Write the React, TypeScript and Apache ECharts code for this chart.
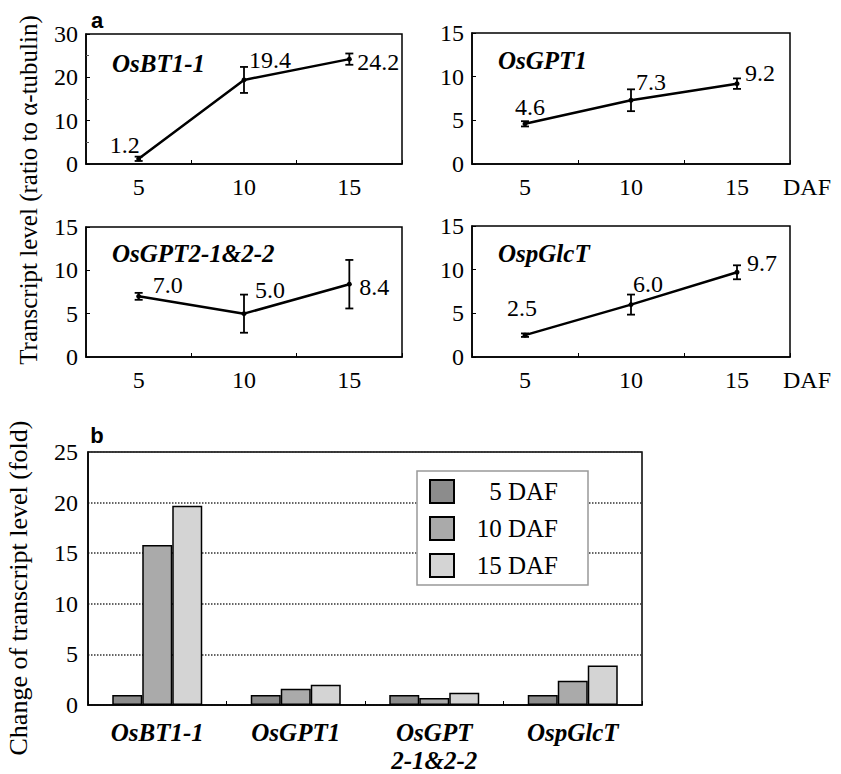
import React, { useEffect, useRef } from "react";
import * as echarts from "echarts";

const daf = ["5", "10", "15"];
const osbt11 = [1.2, 19.4, 24.2];
const osbt11Err = [0.5, 3.0, 1.3];
const osgpt1 = [4.6, 7.3, 9.2];
const osgpt1Err = [0.3, 1.25, 0.6];
const osgpt2 = [7.0, 5.0, 8.4];
const osgpt2Err = [0.4, 2.2, 2.8];
const ospglct = [2.5, 6.0, 9.7];
const ospglctErr = [0.2, 1.15, 0.8];

const genes = ["OsBT1-1", "OsGPT1", "OsGPT\n2-1&2-2", "OspGlcT"];
const fold5 = [1.0, 1.0, 1.0, 1.0];
const fold10 = [15.8, 1.6, 0.7, 2.4];
const fold15 = [19.7, 2.0, 1.2, 3.9];

const SERIF = "Liberation Serif";
const SANS = "Liberation Sans";

// label offsets (layout only)
const labelOffsets = [
  [[-14, -14], [26, -20], [29, 3]],
  [[5, -17], [20, -18], [23, -11]],
  [[29, -11], [26, -24], [25, 3]],
  [[-3, -27], [17, -21], [25, -9]],
];

const panels = [
  { name: "OsBT1-1", vals: osbt11, errs: osbt11Err, max: 30, interval: 10, grid: { left: 86, top: 34, width: 316, height: 130 }, daf: false, tx: 112, ty: 63 },
  { name: "OsGPT1", vals: osgpt1, errs: osgpt1Err, max: 15, interval: 5, grid: { left: 472, top: 33, width: 318, height: 131 }, daf: true, tx: 498, ty: 60 },
  { name: "OsGPT2-1&2-2", vals: osgpt2, errs: osgpt2Err, max: 15, interval: 5, grid: { left: 86, top: 227, width: 316, height: 130 }, daf: false, tx: 112, ty: 253 },
  { name: "OspGlcT", vals: ospglct, errs: ospglctErr, max: 15, interval: 5, grid: { left: 472, top: 226, width: 318, height: 131 }, daf: true, tx: 498, ty: 253 },
];

export default function App() {
  const ref = useRef<HTMLDivElement>(null);
  useEffect(() => {
    document.body.style.margin = "0";
    const chart = echarts.init(ref.current!, null, { renderer: "svg" });

    const grids: any[] = [];
    const xAxes: any[] = [];
    const yAxes: any[] = [];
    const series: any[] = [];
    const graphics: any[] = [];

    panels.forEach((p, i) => {
      grids.push({ ...p.grid, show: true, borderColor: "#000", borderWidth: 1.5, containLabel: false });
      xAxes.push({
        type: "category",
        gridIndex: i,
        data: daf,
        boundaryGap: true,
        axisLine: { show: true, lineStyle: { color: "#000", width: 1.5 } },
        axisTick: { show: true, inside: true, length: 4, lineStyle: { color: "#000" } },
        axisLabel: { color: "#000", fontSize: 24, fontFamily: SERIF, margin: 11 },
        name: p.daf ? "DAF" : "",
        nameLocation: "end",
        nameGap: -7,
        nameTextStyle: { color: "#000", fontSize: 24, fontFamily: SERIF, align: "left", verticalAlign: "top", padding: [11, 0, 0, 0] },
      });
      yAxes.push({
        type: "value",
        gridIndex: i,
        min: 0,
        max: p.max,
        interval: p.interval,
        axisLine: { show: true, lineStyle: { color: "#000", width: 1.5 } },
        axisTick: { show: true, inside: true, length: 4, lineStyle: { color: "#000" } },
        minorTick: { show: p.max === 30, splitNumber: 2, length: 3, lineStyle: { color: "#555" } },
        splitLine: { show: false },
        axisLabel: { color: "#000", fontSize: 24, fontFamily: SERIF, margin: 8 },
      });
      series.push({
        type: "line",
        xAxisIndex: i,
        yAxisIndex: i,
        data: p.vals.map((v, j) => ({
          value: v,
          label: { offset: labelOffsets[i][j] },
        })),
        symbol: "circle",
        symbolSize: 5,
        itemStyle: { color: "#000" },
        lineStyle: { color: "#000", width: 2.5 },
        label: {
          show: true,
          position: "inside",
          color: "#000",
          fontSize: 24,
          fontFamily: SERIF,
          formatter: (q: any) => Number(q.value).toFixed(1),
        },
        z: 3,
      });
      series.push({
        type: "custom",
        xAxisIndex: i,
        yAxisIndex: i,
        data: p.vals.map((v, j) => [j, v - p.errs[j], v + p.errs[j]]),
        renderItem: (params: any, api: any) => {
          const x = api.value(0);
          const lo = api.coord([x, api.value(1)]);
          const hi = api.coord([x, api.value(2)]);
          const cw = 4;
          const st = { stroke: "#000", lineWidth: 1.8 };
          return {
            type: "group",
            children: [
              { type: "line", shape: { x1: lo[0], y1: lo[1], x2: hi[0], y2: hi[1] }, style: st },
              { type: "line", shape: { x1: lo[0] - cw, y1: lo[1], x2: lo[0] + cw, y2: lo[1] }, style: st },
              { type: "line", shape: { x1: hi[0] - cw, y1: hi[1], x2: hi[0] + cw, y2: hi[1] }, style: st },
            ],
          };
        },
        z: 4,
      });
      graphics.push({
        type: "text",
        x: p.tx,
        y: p.ty,
        style: {
          text: p.name,
          fontSize: 25,
          fontFamily: SERIF,
          fontWeight: "bold",
          fontStyle: "italic",
          fill: "#000",
          align: "left",
          verticalAlign: "middle",
        },
      });
    });

    // Bar chart (part b)
    const bi = 4;
    grids.push({ left: 88, top: 452, width: 554, height: 256, show: true, borderColor: "#000", borderWidth: 1.5 });
    xAxes.push({
      type: "category",
      gridIndex: bi,
      data: genes,
      boundaryGap: true,
      axisLine: { show: true, lineStyle: { color: "#000", width: 1.5 } },
      axisTick: { show: true, inside: true, length: 4, lineStyle: { color: "#000" } },
      axisLabel: {
        color: "#000",
        fontSize: 25,
        fontFamily: SERIF,
        fontWeight: "bold",
        fontStyle: "italic",
        lineHeight: 28,
        margin: 13,
        interval: 0,
      },
    });
    yAxes.push({
      type: "value",
      gridIndex: bi,
      min: 0,
      max: 25,
      interval: 5,
      axisLine: { show: true, lineStyle: { color: "#000", width: 1.5 } },
      axisTick: { show: false },
      splitLine: { show: true, lineStyle: { color: "#333", type: "dotted", width: 1.5 } },
      axisLabel: { color: "#000", fontSize: 24, fontFamily: SERIF, margin: 10 },
    });
    const barDefs = [
      { name: "5 DAF", data: fold5, color: "#8c8c8c" },
      { name: "10 DAF", data: fold10, color: "#aaaaaa" },
      { name: "15 DAF", data: fold15, color: "#d4d4d4" },
    ];
    barDefs.forEach((b) => {
      series.push({
        type: "bar",
        name: b.name,
        xAxisIndex: bi,
        yAxisIndex: bi,
        data: b.data,
        barWidth: 30,
        barGap: "0%",
        itemStyle: { color: b.color, borderColor: "#000", borderWidth: 1.5 },
      });
    });

    graphics.push(
      {
        type: "text",
        x: 28,
        y: 190,
        rotation: Math.PI / 2,
        style: {
          text: "Transcript level (ratio to α-tubulin)",
          fontSize: 25,
          fontFamily: SERIF,
          fill: "#000",
          align: "center",
          verticalAlign: "middle",
        },
      },
      {
        type: "text",
        x: 18,
        y: 588,
        rotation: Math.PI / 2,
        style: {
          text: "Change of transcript level (fold)",
          fontSize: 26,
          fontFamily: SERIF,
          fill: "#000",
          align: "center",
          verticalAlign: "middle",
        },
      },
      {
        type: "text",
        x: 97,
        y: 20,
        style: { text: "a", fontSize: 22, fontFamily: SANS, fontWeight: "bold", fill: "#000", align: "center", verticalAlign: "middle" },
      },
      {
        type: "text",
        x: 97,
        y: 435,
        style: { text: "b", fontSize: 22, fontFamily: SANS, fontWeight: "bold", fill: "#000", align: "center", verticalAlign: "middle" },
      }
    );

    chart.setOption({
      animation: false,
      backgroundColor: "#fff",
      grid: grids,
      xAxis: xAxes,
      yAxis: yAxes,
      series,
      graphic: graphics,
      legend: {
        data: barDefs.map((b) => b.name),
        orient: "vertical",
        left: 417,
        top: 471,
        padding: [8, 30, 7, 12],
        itemWidth: 24,
        itemHeight: 23,
        itemGap: 12,
        icon: "rect",
        backgroundColor: "#fff",
        borderColor: "#999",
        borderWidth: 1.5,
        formatter: "{t|{name}}",
        textStyle: {
          color: "#000",
          fontSize: 25,
          fontFamily: SERIF,
          rich: { t: { width: 99, align: "right", fontSize: 25, fontFamily: SERIF, color: "#000" } },
        },
      },
    });
    return () => chart.dispose();
  }, []);
  return <div ref={ref} style={{ width: 841, height: 774 }} />;
}
